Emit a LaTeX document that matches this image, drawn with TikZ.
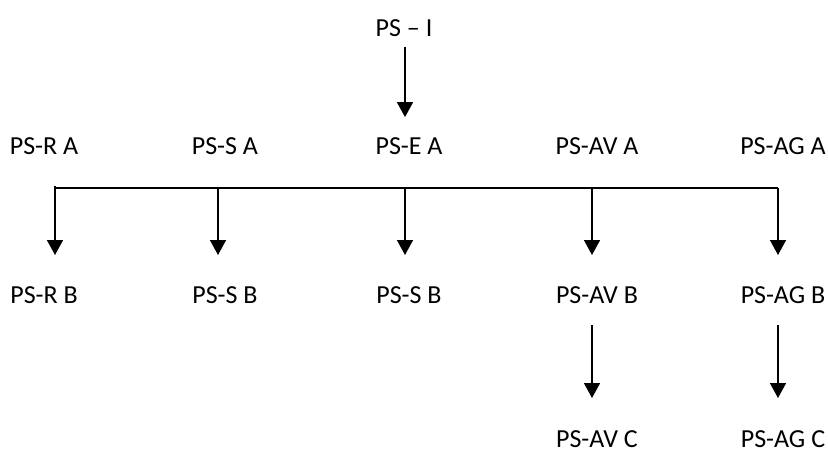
\documentclass[tikz,border=0pt]{standalone}
\usepackage{fontspec}
\setmainfont{Carlito}
\usetikzlibrary{arrows.meta}
\begin{document}
\begin{tikzpicture}[x=1pt,y=-1pt,
  lbl/.style={inner sep=0pt,outer sep=0pt,text height=16.8pt,text depth=0pt,font=\fontsize{26}{30}\selectfont},
  arr/.style={line width=1.6pt,-{Triangle[width=16pt,length=15pt]}},
  bus/.style={line width=1.1pt}]
\useasboundingbox (0,0) rectangle (828,451);
% top
\node[lbl] (psi) at (404,28) {PS – I};
% row A
\node[lbl] (ra) at (44,146) {PS-R A};
\node[lbl] (sa) at (225,146) {PS-S A};
\node[lbl] (ea) at (409,146) {PS-E A};
\node[lbl] (ava) at (597,146) {PS-AV A};
\node[lbl] (aga) at (783,146) {PS-AG A};
% row B
\node[lbl] (rb) at (44,295) {PS-R B};
\node[lbl] (sb) at (225,295) {PS-S B};
\node[lbl] (sb2) at (409,295) {PS-S B};
\node[lbl] (avb) at (597,295) {PS-AV B};
\node[lbl] (agb) at (783,295) {PS-AG B};
% row C
\node[lbl] (avc) at (597,439) {PS-AV C};
\node[lbl] (agc) at (783,439) {PS-AG C};
% bus
\coordinate (b1) at (55,188);
\coordinate (b2) at (218,188);
\coordinate (b3) at (405,188);
\coordinate (b4) at (592,188);
\coordinate (b5) at (778,188);
\draw[bus] (b1) -- (b5);
\draw[bus] (55,186) -- (b1);
% arrows
\draw[arr,shorten <=10.5pt,shorten >=20.5pt] (psi.south -| b3) -- (b3 |- ea.north);
\draw[arr,shorten >=31.6pt] (b1) -- (b1 |- rb.north);
\draw[arr,shorten >=31.6pt] (b2) -- (b2 |- sb.north);
\draw[arr,shorten >=31.6pt] (b3) -- (b3 |- sb2.north);
\draw[arr,shorten >=31.6pt] (b4) -- (b4 |- avb.north);
\draw[arr,shorten >=31.6pt] (b5) -- (b5 |- agb.north);
\draw[arr,shorten <=22pt,shorten >=32.6pt] (b4 |- avb.south) -- (b4 |- avc.north);
\draw[arr,shorten <=22pt,shorten >=32.6pt] (b5 |- agb.south) -- (b5 |- agc.north);
\end{tikzpicture}
\end{document}
